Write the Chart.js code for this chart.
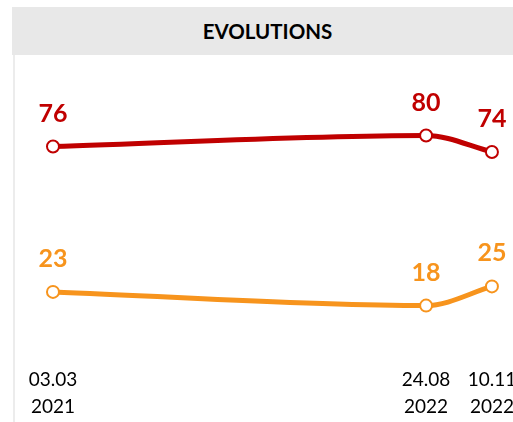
<!DOCTYPE html>
<html>
<head>
<meta charset="utf-8">
<script src="https://cdn.jsdelivr.net/npm/chart.js@4"></script>
<style>
  html, body { margin: 0; padding: 0; background: #fff; }
  body { width: 513px; height: 422px; position: relative; overflow: hidden; font-family: Lato, sans-serif; }
  #header {
    position: absolute; left: 12px; top: 7px; width: 501px; height: 48px;
    background: #e8e8e8; text-align: center; line-height: 48px;
    font-weight: bold; font-size: 20.5px; color: #000; padding-left: 10px; box-sizing: border-box;
  }
  #leftline { position: absolute; left: 13px; top: 55px; width: 2px; height: 367px; background: #ececec; }
  #wrap { position: absolute; left: 0; top: 0; width: 530px; height: 422px; }
</style>
</head>
<body>
<div id="header">EVOLUTIONS</div>
<div id="leftline"></div>
<div id="wrap"><canvas id="chart"></canvas></div>
<script>
// months since 03.2021
const dates = [0, 17, 20];
const dateLabels = [['03.03', '2021'], ['24.08', '2022'], ['10.11', '2022']];
const redValues = [76, 80, 74];
const orangeValues = [23, 18, 25];

const RED = '#c00000';
const ORANGE = '#f7941d';

const valueLabels = {
  id: 'valueLabels',
  afterDatasetsDraw(chart) {
    const ctx = chart.ctx;
    ctx.save();
    ctx.font = 'bold 25px Lato';
    ctx.textAlign = 'center';
    ctx.textBaseline = 'middle';
    chart.data.datasets.forEach((ds, i) => {
      chart.getDatasetMeta(i).data.forEach((pt, j) => {
        ctx.fillStyle = ds.borderColor;
        ctx.fillText(String(ds.data[j].y), pt.x, pt.y - 33);
      });
    });
    ctx.restore();
  },
};

function series(values) {
  return values.map((v, i) => ({ x: dates[i], y: v }));
}

function makeDataset(values, color) {
  return {
    data: series(values),
    borderColor: color,
    borderWidth: 5,
    pointRadius: 6,
    pointBorderWidth: 2,
    pointBackgroundColor: '#fff',
    pointBorderColor: color,
    cubicInterpolationMode: 'monotone',
  };
}

new Chart(document.getElementById('chart'), {
  type: 'line',
  data: {
    datasets: [makeDataset(redValues, RED), makeDataset(orangeValues, ORANGE)],
  },
  options: {
    responsive: true,
    maintainAspectRatio: false,
    animation: false,
    layout: { padding: { top: 60, left: 14, right: 17, bottom: 1 } },
    plugins: { legend: { display: false }, tooltip: { enabled: false } },
    scales: {
      x: {
        type: 'linear',
        min: -1.777,
        max: 20.96,
        grid: { display: false, drawTicks: false },
        border: { display: false },
        afterBuildTicks: (scale) => { scale.ticks = dates.map((d) => ({ value: d })); },
        afterFit: (scale) => { scale.height = 66; },
        ticks: {
          autoSkip: false,
          maxRotation: 0,
          padding: 11,
          color: '#000',
          font: { family: 'Lato', size: 19, lineHeight: 1.42 },
          callback: (v) => dateLabels[dates.indexOf(v)],
        },
      },
      y: {
        display: false,
        min: 0,
        max: 107.5,
      },
    },
  },
  plugins: [valueLabels],
});
</script>
</body>
</html>
